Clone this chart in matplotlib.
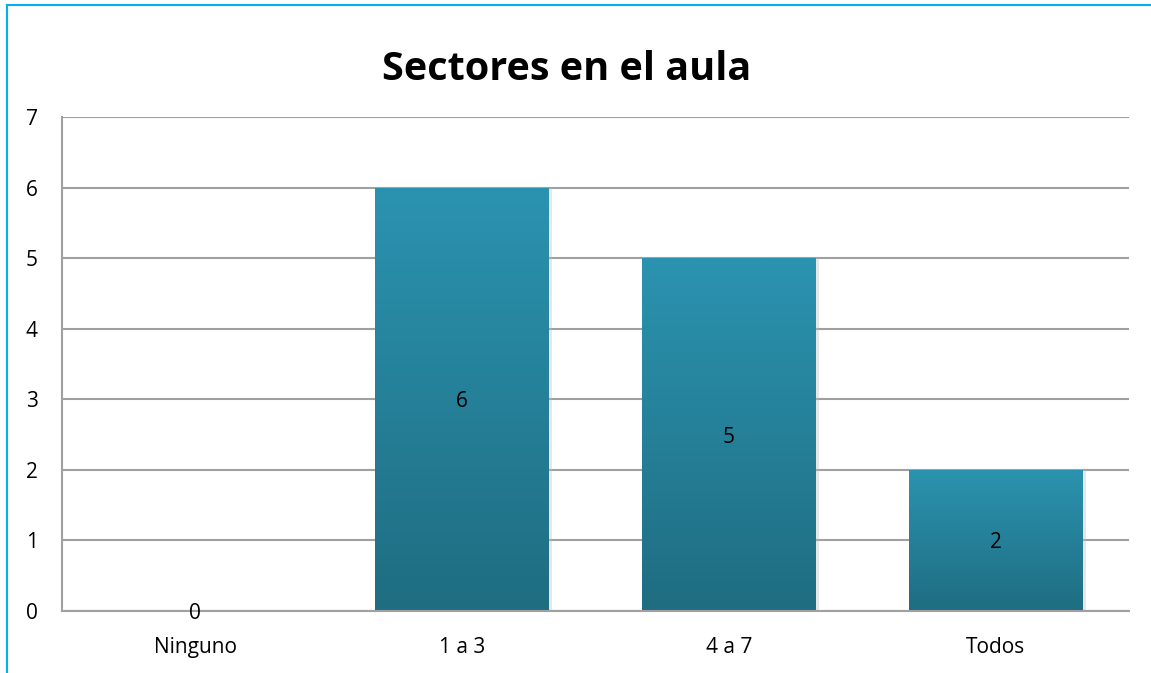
import matplotlib
matplotlib.use("Agg")
import matplotlib.pyplot as plt
import numpy as np
from matplotlib.patches import Rectangle

categories = ["Ninguno", "1 a 3", "4 a 7", "Todos"]
values = [0, 6, 5, 2]
yticks = [0, 1, 2, 3, 4, 5, 6, 7]
title = "Sectores en el aula"

plt.rcParams['font.family'] = ['Open Sans', 'DejaVu Sans']

W, H = 1151, 673
fig = plt.figure(figsize=(W / 100, H / 100), dpi=100)
ax = fig.add_axes([62 / W, 1 - 611 / H, (1129 - 62) / W, (611 - 117) / H])

x = np.arange(len(categories))
bars = ax.bar(x, values, width=0.65, color="none", zorder=3)
ax.set_xlim(-0.5, len(categories) - 0.5)
ax.set_ylim(0, 7)

top_c = np.array([0x2B, 0x93, 0xB0]) / 255
bot_c = np.array([0x1F, 0x6D, 0x81]) / 255
grad = np.linspace(0, 1, 256)[:, None]
img = (bot_c[None, None, :] * (1 - grad[..., None]) + top_c[None, None, :] * grad[..., None])
for b, v in zip(bars, values):
    if v <= 0:
        continue
    x0, w = b.get_x(), b.get_width()
    sh = Rectangle((x0 + 0.012, 0), w, v, facecolor="#bbbbbb", alpha=0.35, edgecolor="none", zorder=2)
    ax.add_patch(sh)
    im = ax.imshow(img, extent=[x0, x0 + w, 0, v], origin="lower", aspect="auto", zorder=3)
    im.set_clip_path(b)

FS = 15
for i, v in enumerate(values):
    ax.text(i, v / 2, str(v), ha="center", va="center_baseline", fontsize=FS, color="black", zorder=5)

ax.set_yticks(yticks)
ax.set_xticks(x)
ax.set_xticklabels(categories, fontsize=FS)
ax.set_yticklabels([str(t) for t in yticks], fontsize=FS, ha="left")
ax.tick_params(axis="y", length=0, pad=26)
ax.tick_params(axis="x", length=0, pad=19)
ax.yaxis.grid(True, color="#a0a0a0", linewidth=1.5, zorder=1)
ax.set_axisbelow(True)
for s in ["top", "right"]:
    ax.spines[s].set_visible(False)
for s in ["left", "bottom"]:
    ax.spines[s].set_color("#a0a0a0")
    ax.spines[s].set_linewidth(1.5)
ax.spines["bottom"].set_zorder(4)

fig.text(567 / W, 1 - 70 / H, title, ha="center", va="center", fontsize=28.5, fontweight="bold")

fig.add_artist(plt.Line2D([7 / W, 7 / W], [0, 1 - 5 / H], color="#00b0f0", linewidth=1.5, transform=fig.transFigure))
fig.add_artist(plt.Line2D([7 / W, 1], [1 - 5 / H, 1 - 5 / H], color="#00b0f0", linewidth=1.5, transform=fig.transFigure))

fig.savefig("out.png", dpi=100, facecolor="white")
